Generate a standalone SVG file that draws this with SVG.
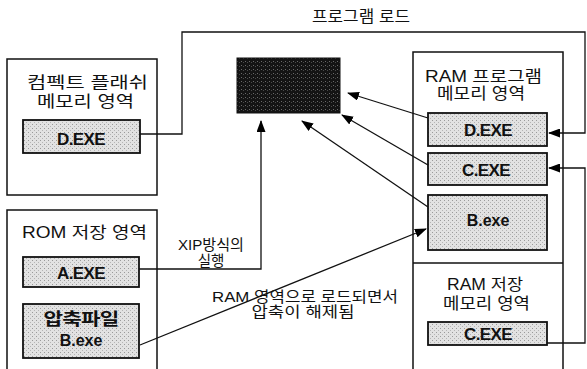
<svg xmlns="http://www.w3.org/2000/svg" width="587" height="369" viewBox="0 0 587 369">
<defs>
<pattern id="dots" width="4" height="4" patternUnits="userSpaceOnUse">
<rect width="4" height="4" fill="#e2e2e2"/>
<rect x="0" y="0" width="1" height="1" fill="#9a9a9a"/>
<rect x="2" y="2" width="1" height="1" fill="#b5b5b5"/>
</pattern>
<pattern id="dark" width="4" height="4" patternUnits="userSpaceOnUse">
<rect width="4" height="4" fill="#141414"/>
<rect x="1" y="1" width="1" height="1" fill="#6a6a6a"/>
<rect x="3" y="2" width="1" height="1" fill="#4a4a4a"/>
</pattern>
<marker id="ah" markerWidth="12" markerHeight="9" refX="11" refY="4.5" orient="auto" markerUnits="userSpaceOnUse">
<path d="M0,0 L12,4.5 L0,9 Z" fill="#000"/>
</marker>
</defs>
<style>
.area{fill:#fff;stroke:#111;stroke-width:1.5}
.file{fill:url(#dots);stroke:#111;stroke-width:1.8}
.t{font-family:"Liberation Sans","Noto Sans CJK KR",sans-serif;font-size:16px;fill:#111;text-anchor:middle}
.s{font-family:"Liberation Sans","Noto Sans CJK KR",sans-serif;font-size:14.5px;fill:#111;text-anchor:middle}
.f{font-family:"Liberation Sans","Noto Sans CJK KR",sans-serif;font-size:17px;font-weight:bold;fill:#111;text-anchor:middle;letter-spacing:-0.6px}
.c{fill:none;stroke:#111;stroke-width:1.3}
</style>
<g id="cf-area">
<rect class="area" x="7" y="59" width="150" height="136"/>
<text class="t" x="87.5" y="88" textLength="121" lengthAdjust="spacingAndGlyphs">컴펙트 플래쉬</text>
<text class="t" x="85.5" y="107" textLength="97" lengthAdjust="spacingAndGlyphs">메모리 영역</text>
</g>
<g id="cf-dexe">
<rect class="file" x="23" y="120" width="117" height="33"/>
<text class="f" x="81" y="145">D.EXE</text>
</g>
<g id="rom-area">
<rect class="area" x="7" y="210" width="150" height="170"/>
<text class="t" x="84.5" y="238" textLength="125" lengthAdjust="spacingAndGlyphs">ROM 저장 영역</text>
</g>
<g id="rom-aexe">
<rect class="file" x="23" y="257" width="116" height="30"/>
<text class="f" x="81" y="279">A.EXE</text>
</g>
<g id="rom-bexe">
<rect class="file" x="23" y="304" width="116" height="54"/>
<text class="f" x="81" y="325" textLength="75" lengthAdjust="spacingAndGlyphs">압축파일</text>
<text class="t" x="81" y="346" style="font-weight:bold">B.exe</text>
</g>
<g id="cpu">
<rect x="237" y="58" width="103" height="55" fill="url(#dark)" stroke="#111" stroke-width="1"/>
</g>
<g id="ram-area">
<rect class="area" x="413" y="52" width="150" height="330"/>
<line x1="413" y1="263" x2="563" y2="263" stroke="#111" stroke-width="1.5"/>
<text class="t" x="483.5" y="82" textLength="117" lengthAdjust="spacingAndGlyphs">RAM 프로그램</text>
<text class="t" x="481" y="99" textLength="88" lengthAdjust="spacingAndGlyphs">메모리 영역</text>
<text class="t" x="485" y="290" textLength="76" lengthAdjust="spacingAndGlyphs">RAM 저장</text>
<text class="t" x="486.5" y="309" textLength="87" lengthAdjust="spacingAndGlyphs">메모리 영역</text>
</g>
<g id="ram-dexe">
<rect class="file" x="428" y="113" width="119" height="33"/>
<text class="f" x="488" y="136">D.EXE</text>
</g>
<g id="ram-cexe">
<rect class="file" x="428" y="153" width="119" height="32"/>
<text class="f" x="486" y="176">C.EXE</text>
</g>
<g id="ram-bexe">
<rect class="file" x="428" y="195" width="119" height="55"/>
<text class="t" x="488" y="226" style="font-weight:bold">B.exe</text>
</g>
<g id="store-cexe">
<rect class="file" x="428" y="322" width="119" height="23"/>
<text class="f" x="488" y="340">C.EXE</text>
</g>
<g id="connectors">
<polyline class="c" points="140,134 182,134 182,32 585,32 585,133 549,133" marker-end="url(#ah)"/>
<polyline class="c" points="547,343 585,343 585,168 549,168" marker-end="url(#ah)"/>
<polyline class="c" points="139,269 261,269 261,121" marker-end="url(#ah)"/>
<line class="c" x1="140" y1="345" x2="426" y2="229" marker-end="url(#ah)"/>
<line class="c" x1="428" y1="118" x2="348" y2="93" marker-end="url(#ah)"/>
<line class="c" x1="428" y1="165" x2="342" y2="115" marker-end="url(#ah)"/>
<line class="c" x1="428" y1="207" x2="302" y2="121" marker-end="url(#ah)"/>
<text class="t" x="361" y="22" textLength="98" lengthAdjust="spacingAndGlyphs">프로그램 로드</text>
<text class="s" x="211" y="250" textLength="66" lengthAdjust="spacingAndGlyphs">XIP방식의</text>
<text class="s" x="211" y="266">실행</text>
<text class="s" x="305" y="302" textLength="186" lengthAdjust="spacingAndGlyphs">RAM 영역으로 로드되면서</text>
<text class="s" x="303" y="317" textLength="103" lengthAdjust="spacingAndGlyphs">압축이 해제됨</text>
</g>
</svg>
